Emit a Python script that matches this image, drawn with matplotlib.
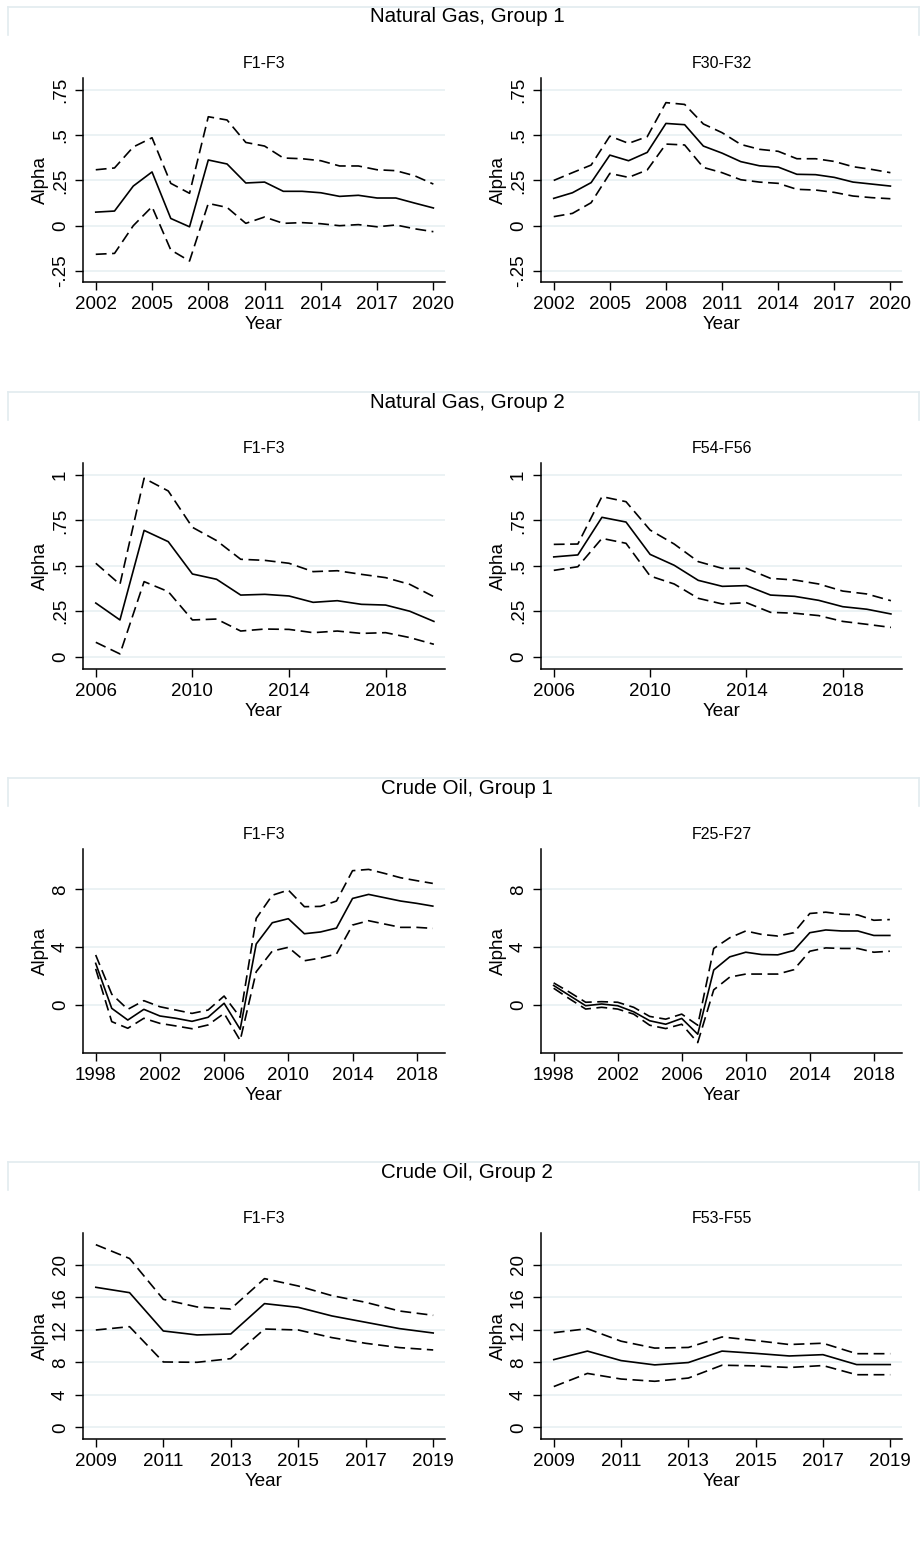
import matplotlib
matplotlib.use("Agg")
import matplotlib.pyplot as plt
from matplotlib.lines import Line2D

plt.rcParams['font.family'] = ['Liberation Sans', 'DejaVu Sans']

W, H = 921, 1551

# Natural Gas, Group 1
ng1_years = list(range(2002, 2021))
ng1_f1_est = [0.075, 0.081, 0.219, 0.297, 0.040, -0.006, 0.363, 0.341, 0.236, 0.241,
              0.190, 0.190, 0.182, 0.162, 0.168, 0.153, 0.153, 0.125, 0.098]
ng1_f1_hi = [0.309, 0.319, 0.435, 0.486, 0.234, 0.179, 0.602, 0.584, 0.460, 0.440,
             0.374, 0.370, 0.359, 0.330, 0.330, 0.309, 0.304, 0.276, 0.230]
ng1_f1_lo = [-0.158, -0.153, 0.000, 0.105, -0.134, -0.195, 0.123, 0.101, 0.013, 0.048,
             0.013, 0.017, 0.011, 0.000, 0.006, -0.006, 0.004, -0.017, -0.033]
ng1_f30_est = [0.151, 0.182, 0.238, 0.390, 0.359, 0.405, 0.565, 0.558, 0.440, 0.401,
               0.354, 0.331, 0.324, 0.284, 0.282, 0.267, 0.241, 0.230, 0.219]
ng1_f30_hi = [0.250, 0.293, 0.335, 0.495, 0.455, 0.492, 0.680, 0.670, 0.562, 0.514,
              0.449, 0.422, 0.411, 0.370, 0.370, 0.355, 0.326, 0.311, 0.293]
ng1_f30_lo = [0.050, 0.068, 0.127, 0.289, 0.267, 0.308, 0.451, 0.446, 0.322, 0.293,
              0.254, 0.241, 0.234, 0.201, 0.197, 0.184, 0.164, 0.155, 0.149]

# Natural Gas, Group 2
ng2_years = list(range(2006, 2021))
ng2_f1_est = [0.295, 0.202, 0.695, 0.633, 0.455, 0.426, 0.339, 0.343, 0.334, 0.299,
              0.308, 0.288, 0.284, 0.250, 0.194]
ng2_f1_hi = [0.514, 0.398, 0.982, 0.912, 0.712, 0.639, 0.536, 0.530, 0.514, 0.468,
             0.473, 0.453, 0.435, 0.398, 0.330]
ng2_f1_lo = [0.079, 0.015, 0.413, 0.358, 0.202, 0.207, 0.141, 0.152, 0.150, 0.132,
             0.141, 0.128, 0.132, 0.105, 0.068]
ng2_f54_est = [0.549, 0.560, 0.767, 0.741, 0.563, 0.503, 0.420, 0.387, 0.391, 0.339,
               0.332, 0.310, 0.275, 0.261, 0.235]
ng2_f54_hi = [0.618, 0.620, 0.881, 0.853, 0.697, 0.620, 0.523, 0.486, 0.486, 0.431,
              0.422, 0.400, 0.361, 0.345, 0.308]
ng2_f54_lo = [0.475, 0.495, 0.651, 0.624, 0.444, 0.400, 0.321, 0.290, 0.297, 0.244,
              0.239, 0.226, 0.194, 0.178, 0.161]

# Crude Oil, Group 1
co1_years = list(range(1998, 2020))
co1_f1_est = [2.88, -0.23, -1.04, -0.30, -0.76, -0.92, -1.13, -0.85, 0.12, -1.68, 4.22,
              5.69, 5.97, 4.93, 5.05, 5.32, 7.37, 7.65, 7.42, 7.19, 7.03, 6.84]
co1_f1_hi = [3.46, 0.75, -0.30, 0.30, -0.12, -0.35, -0.58, -0.35, 0.62, -0.85, 5.99,
             7.59, 7.95, 6.80, 6.82, 7.19, 9.29, 9.38, 9.10, 8.80, 8.60, 8.41]
co1_f1_lo = [2.50, -1.15, -1.61, -0.92, -1.27, -1.45, -1.64, -1.38, -0.58, -2.45, 2.30,
             3.73, 3.99, 3.06, 3.25, 3.53, 5.53, 5.83, 5.60, 5.37, 5.37, 5.30]
co1_f25_est = [1.35, 0.65, -0.05, 0.07, -0.05, -0.47, -1.09, -1.33, -0.93, -2.02, 2.42,
               3.33, 3.65, 3.49, 3.47, 3.77, 5.00, 5.19, 5.12, 5.12, 4.81, 4.81]
co1_f25_hi = [1.53, 0.88, 0.19, 0.23, 0.19, -0.16, -0.79, -0.98, -0.63, -1.40, 3.91,
              4.65, 5.12, 4.88, 4.77, 5.00, 6.33, 6.42, 6.28, 6.23, 5.86, 5.91]
co1_f25_lo = [1.16, 0.42, -0.28, -0.16, -0.28, -0.63, -1.40, -1.63, -1.33, -2.60, 1.05,
              1.93, 2.14, 2.14, 2.14, 2.44, 3.72, 3.95, 3.91, 3.91, 3.65, 3.72]

# Crude Oil, Group 2
co2_years = list(range(2009, 2020))
co2_f1_est = [17.25, 16.59, 11.87, 11.38, 11.50, 15.24, 14.78, 13.72, 12.94, 12.16, 11.62]
co2_f1_hi = [22.50, 20.80, 15.77, 14.83, 14.58, 18.32, 17.41, 16.22, 15.40, 14.33, 13.80]
co2_f1_lo = [11.99, 12.40, 8.05, 8.01, 8.46, 12.11, 11.99, 11.05, 10.35, 9.82, 9.53]
co2_f53_est = [8.34, 9.39, 8.22, 7.69, 7.98, 9.39, 9.11, 8.79, 8.95, 7.73, 7.73]
co2_f53_hi = [11.66, 12.15, 10.61, 9.76, 9.84, 11.13, 10.69, 10.20, 10.36, 9.07, 9.07]
co2_f53_lo = [5.02, 6.64, 5.95, 5.67, 6.07, 7.65, 7.57, 7.37, 7.61, 6.48, 6.48]

group_titles = ["Natural Gas, Group 1", "Natural Gas, Group 2",
                "Crude Oil, Group 1", "Crude Oil, Group 2"]
panel_titles = [["F1-F3", "F30-F32"], ["F1-F3", "F54-F56"],
                ["F1-F3", "F25-F27"], ["F1-F3", "F53-F55"]]
panel_data = [
    [(ng1_years, ng1_f1_est, ng1_f1_hi, ng1_f1_lo), (ng1_years, ng1_f30_est, ng1_f30_hi, ng1_f30_lo)],
    [(ng2_years, ng2_f1_est, ng2_f1_hi, ng2_f1_lo), (ng2_years, ng2_f54_est, ng2_f54_hi, ng2_f54_lo)],
    [(co1_years, co1_f1_est, co1_f1_hi, co1_f1_lo), (co1_years, co1_f25_est, co1_f25_hi, co1_f25_lo)],
    [(co2_years, co2_f1_est, co2_f1_hi, co2_f1_lo), (co2_years, co2_f53_est, co2_f53_hi, co2_f53_lo)],
]
yticks = [[-0.25, 0, 0.25, 0.5, 0.75], [0, 0.25, 0.5, 0.75, 1], [0, 4, 8], [0, 4, 8, 12, 16, 20]]
ytick_labels = [["-.25", "0", ".25", ".5", ".75"], ["0", ".25", ".5", ".75", "1"],
                ["0", "4", "8"], ["0", "4", "8", "12", "16", "20"]]
xticks = [list(range(2002, 2021, 3)), list(range(2006, 2021, 4)),
          list(range(1998, 2019, 4)), list(range(2009, 2020, 2))]
ylims = [(-0.311, 0.816), (-0.068, 1.066), (-3.32, 10.79), (-1.44, 23.94)]
xlims = [(2001.32, 2020.62), (2005.47, 2020.46), (1997.21, 2019.76), (2008.62, 2019.35)]

# pixel layout
row_px = [(78, 282), (463, 669), (849, 1053), (1233, 1439)]
col_px = [(83, 445), (541, 902)]
group_y = [17, 402, 788, 1172]

grid_color = "#e8f0f2"
box_color = "#e2ebef"
dash = (0, (6.5, 3.3))

fig = plt.figure(figsize=(W / 100, H / 100), dpi=100)
fig.patch.set_facecolor("white")

for r in range(4):
    gy = group_y[r]
    fig.text(467 / W, 1 - gy / H, group_titles[r], ha="center", va="center",
             fontsize=14.8, color="black")
    top = gy - 10
    fig.add_artist(Line2D([8 / W, 919 / W], [1 - top / H, 1 - top / H],
                          color=box_color, lw=1.2, transform=fig.transFigure))
    fig.add_artist(Line2D([8 / W, 8 / W], [1 - top / H, 1 - (top + 28) / H],
                          color=box_color, lw=1.2, transform=fig.transFigure))
    fig.add_artist(Line2D([919 / W, 919 / W], [1 - top / H, 1 - (top + 28) / H],
                          color=box_color, lw=1.2, transform=fig.transFigure))

    t, b = row_px[r]
    for c in range(2):
        l, rr = col_px[c]
        ax = fig.add_axes([l / W, 1 - b / H, (rr - l) / W, (b - t) / H])
        years, est, hi, lo = panel_data[r][c]
        for yv in yticks[r]:
            ax.axhline(yv, color=grid_color, lw=1.2, zorder=0)
        ax.plot(years, hi, color="black", lw=1.2, linestyle=dash)
        ax.plot(years, est, color="black", lw=1.2)
        ax.plot(years, lo, color="black", lw=1.2, linestyle=dash)

        ax.set_xlim(*xlims[r])
        ax.set_ylim(*ylims[r])
        ax.set_xticks(xticks[r])
        ax.set_xticklabels([str(x) for x in xticks[r]])
        ax.set_yticks(yticks[r])
        ax.set_yticklabels(ytick_labels[r], rotation=90, va="center")
        ax.tick_params(axis="both", direction="out", length=6, width=1,
                       labelsize=13.5, pad=4, colors="black")
        for sp in ["top", "right"]:
            ax.spines[sp].set_visible(False)
        for sp in ["bottom", "left"]:
            ax.spines[sp].set_linewidth(1.1)
            ax.spines[sp].set_color("black")
        ax.set_xlabel("Year", fontsize=13.5, labelpad=2)
        ax.set_ylabel("Alpha", fontsize=13.5, labelpad=2)
        ax.set_title(panel_titles[r][c], fontsize=11.5, pad=7)

fig.savefig("out.png", dpi=100, facecolor="white")
